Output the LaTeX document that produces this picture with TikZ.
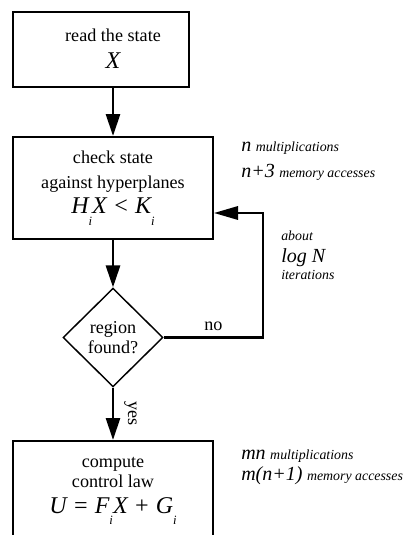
\documentclass[tikz,border=0pt]{standalone}
\usepackage{fontspec}
\setmainfont{Liberation Serif}
\usetikzlibrary{arrows.meta,shapes.geometric}
\newcommand{\lowi}{\raisebox{-8.5pt}{\fontsize{9.5}{9.5}\selectfont\itshape i}}
\newcommand{\bigit}{\fontsize{18}{20}\selectfont\itshape}
\newcommand{\noteit}{\fontsize{15}{17}\selectfont\itshape}
\newcommand{\smallit}{\fontsize{10.4}{12}\selectfont\itshape}

\begin{document}
\begin{tikzpicture}[x=0.75pt, y=-0.75pt,
	every node/.style={font=\fontsize{13.6}{19}\selectfont},
	box/.style={draw, line width=1.5pt, minimum width=150pt, align=center, inner sep=0pt},
	cond/.style={draw, diamond, line width=1.1pt, minimum width=75pt, minimum height=74pt, aspect=1, inner sep=0pt, align=center, font=\fontsize{13.6}{15.5}\selectfont},
	flow/.style={line width=2.1pt, -{Triangle[length=16.5pt,width=10.5pt]}},
	backflow/.style={line width=1.7pt, -{Triangle[length=18pt,width=10pt]}},
	note/.style={anchor=base west, inner sep=0pt}]
		%%%%% START %%%%%
		
		\useasboundingbox (0, 0) rectangle (407, 535);
		
		\node[box, minimum width=132pt, minimum height=56.25pt] (read) at (101, 49.5) {};
		\node[align=center, inner sep=0pt] (readtxt) at (113, 49) {read the state\\[1pt]{\bigit X}};
		
		\node[box, minimum height=76.5pt] (check) at (113, 188) {check state\\against hyperplanes\\{\bigit H\lowi X < K\lowi}};
		
		\node[cond] (found) at (113, 337.5) {region\\found?};
		
		\node[box, anchor=north, minimum height=76.5pt] (compute) at (113, 440) {compute\\[-4pt]control law\\{\bigit U = F\lowi X + G\lowi}\rule[-10pt]{0pt}{0pt}};
		
		\coordinate (back) at (263, 213);
		
		\draw[flow] (check.north |- read.south) -- (check.north);
		\draw[flow] (check) -- (found);
		\draw[flow] (found) -- node[right, rotate=-90, anchor=south, yshift=4pt] {yes} (compute);
		\draw[backflow] (found.east) -- node[above, yshift=1pt] {no} (found.east -| back) -- (back) -- (check.east |- back);
		
		\node[note] (mult) at (241, 151) {{\noteit n} {\smallit multiplications}};
		\node[note] (mem) at (241, 177) {{\noteit n+3} {\smallit memory accesses}};
		
		\node[note] (about) at (281, 240.5) {\smallit about};
		\node[note] (logn) at (281, 262) {\noteit log N};
		\node[note] (iter) at (281, 279) {\smallit iterations};
		
		\node[note] (mult2) at (241, 459) {{\noteit mn} {\smallit multiplications}};
		\node[note] (mem2) at (241, 480) {{\noteit m(n+1)} {\smallit memory accesses}};
		
		%%%%% END %%%%%
	\end{tikzpicture}
\end{document}
